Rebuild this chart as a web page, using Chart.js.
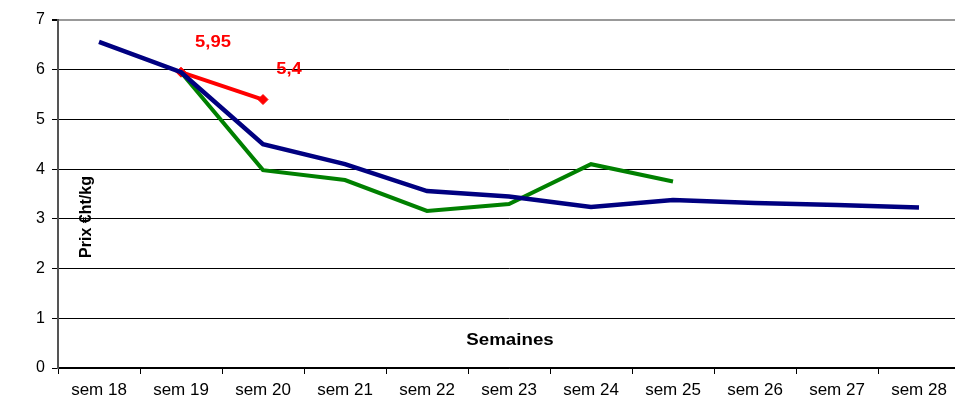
<!DOCTYPE html>
<html>
<head>
<meta charset="utf-8">
<script src="https://cdn.jsdelivr.net/npm/chart.js@4.4.1/dist/chart.umd.min.js"></script>
<style>
    html, body { margin: 0; padding: 0; background: #fff; overflow: hidden; }
    #wrap { position: relative; width: 966px; height: 402px; }
</style>
</head>
<body>
<div id="wrap"><canvas id="chart"></canvas></div>
<script>
const WEEKS = ['sem 18', 'sem 19', 'sem 20', 'sem 21', 'sem 22', 'sem 23', 'sem 24', 'sem 25', 'sem 26', 'sem 27', 'sem 28'];
const BLUE_VALUES = [6.56, 5.95, 4.5, 4.1, 3.56, 3.45, 3.24, 3.38, 3.32, 3.28, 3.23];
const GREEN_VALUES = [null, 5.95, 3.98, 3.78, 3.16, 3.3, 4.1, 3.75, null, null, null];
const RED_VALUES = [null, 5.95, 5.4, null, null, null, null, null, null, null, null];
const RED_LABELS = [null, '5,95', '5,4', null, null, null, null, null, null, null, null];
const Y_TICKS = [0, 1, 2, 3, 4, 5, 6, 7];

const FONT = "'Liberation Sans', Arial, sans-serif";

// draws text a bit wider, like the stretched original
function wideText(ctx, text, x, y, sx) {
    ctx.save();
    ctx.translate(x, y);
    ctx.scale(sx, 1);
    ctx.fillText(text, 0, 0);
    ctx.restore();
}

// texts that Excel put inside the plot area
const innerTitles = {
    id: 'innerTitles',
    afterDatasetsDraw(chart) {
        const { ctx } = chart;
        ctx.save();
        ctx.fillStyle = '#000';
        ctx.font = 'bold 16px ' + FONT;
        ctx.textAlign = 'center';
        ctx.textBaseline = 'middle';
        wideText(ctx, 'Semaines', 510, 341, 1.17);
        ctx.translate(87, 217);
        ctx.rotate(-Math.PI / 2);
        ctx.fillText('Prix €ht/kg', 0, 0);
        ctx.restore();

        // red data labels
        const meta = chart.getDatasetMeta(2);
        ctx.save();
        ctx.fillStyle = '#ff0000';
        ctx.font = 'bold 16px ' + FONT;
        ctx.textAlign = 'center';
        ctx.textBaseline = 'middle';
        meta.data.forEach((pt, i) => {
            if (!RED_LABELS[i]) return;
            wideText(ctx, RED_LABELS[i], pt.x + (i === 1 ? 32 : 26), pt.y - 30, 1.15);
        });
        ctx.restore();
    }
};

new Chart(document.getElementById('chart'), {
    type: 'line',
    data: {
        labels: WEEKS,
        datasets: [
            {
                label: 'blue',
                data: BLUE_VALUES,
                borderColor: '#000080',
                borderWidth: 4.5,
                pointRadius: 0,
                tension: 0
            },
            {
                label: 'green',
                data: GREEN_VALUES,
                borderColor: '#008000',
                borderWidth: 4,
                pointRadius: 0,
                tension: 0
            },
            {
                label: 'red',
                data: RED_VALUES,
                borderColor: '#ff0000',
                backgroundColor: '#ff0000',
                borderWidth: 4,
                pointStyle: 'rectRot',
                pointRadius: 5,
                pointBorderWidth: 1,
                tension: 0
            }
        ]
    },
    options: {
        responsive: true,
        maintainAspectRatio: false,
        animation: false,
        layout: { padding: { top: 20, right: 0, left: 0, bottom: 0 } },
        plugins: {
            legend: { display: false },
            tooltip: { enabled: false }
        },
        scales: {
            x: {
                offset: true,
                grid: {
                    offset: true,
                    drawOnChartArea: false,
                    drawTicks: true,
                    tickLength: 6,
                    color: '#000'
                },
                border: { color: '#000', width: 1.5 },
                ticks: {
                    color: '#000',
                    font: { family: FONT, size: 17 },
                    maxRotation: 0,
                    autoSkip: false,
                    padding: 6
                },
                afterFit(scale) { scale.height = 34; }
            },
            y: {
                min: 0,
                max: 7,
                afterBuildTicks(scale) {
                    scale.ticks = Y_TICKS.map(v => ({ value: v }));
                },
                grid: {
                    color: (c) => c.tick && c.tick.value === 7 ? '#999' : '#000',
                    lineWidth: (c) => c.tick && c.tick.value === 7 ? 2 : 1,
                    drawTicks: true,
                    tickLength: 6,
                    tickColor: '#000'
                },
                border: { color: '#555', width: 2 },
                ticks: {
                    color: '#000',
                    font: { family: FONT, size: 16 },
                    padding: 7
                },
                afterFit(scale) { scale.width = 58; }
            }
        }
    },
    plugins: [innerTitles]
});
</script>
</body>
</html>
